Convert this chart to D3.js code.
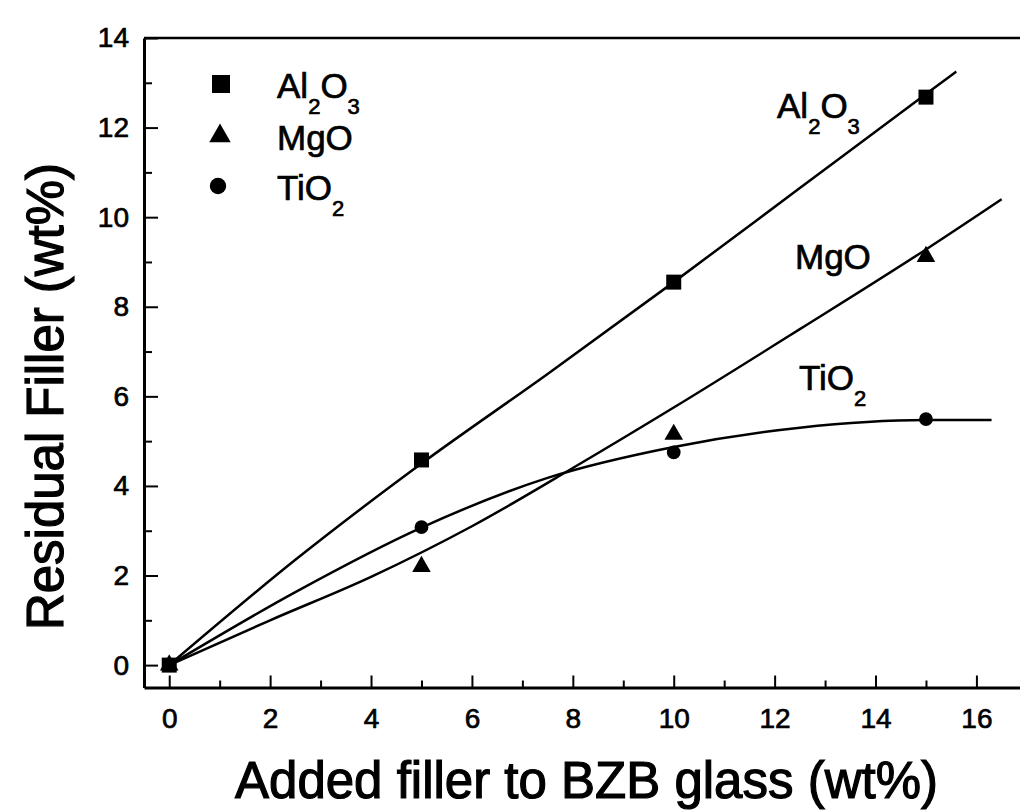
<!DOCTYPE html>
<html>
<head>
<meta charset="utf-8">
<title>Residual filler vs added filler</title>
<script src="https://d3js.org/d3.v7.min.js"></script>
<style>
  body { margin: 0; background: #fff; }
  svg { display: block; }
  text { font-family: Arial, "Liberation Sans", sans-serif; fill: #000; stroke: #000; stroke-width: 0.7px; }
  .axis path, .axis line { stroke: #000; }
  .fit { fill: none; stroke: #000; stroke-width: 2.5px; }
</style>
</head>
<body>
<svg width="1020" height="811"></svg>
<script>
// measured points
const added = [0, 5, 10, 15];
const al2o3 = [0, 4.58, 8.55, 12.68];
const mgo = [0, 2.2, 5.15, 9.12];
const tio2 = [0, 3.08, 4.75, 5.49];

// fitted curves
const alFitX = [0, 2.5, 5, 7.5, 10, 12.5, 15, 15.6];
const alFitY = [0, 2.35, 4.5, 6.5, 8.55, 10.65, 12.75, 13.25];
const mgFitX = [0, 2, 4, 6, 8, 10, 12.5, 15, 16.5];
const mgFitY = [0, 1.0, 1.97, 3.1, 4.4, 5.75, 7.5, 9.28, 10.4];
const tiFitX = [0, 2.5, 5, 7.5, 10, 12.5, 15, 16.3];
const tiFitY = [0, 1.63, 3.07, 4.18, 4.87, 5.3, 5.47, 5.47];

const xMajor = [0, 2, 4, 6, 8, 10, 12, 14, 16];
const xMinor = [1, 3, 5, 7, 9, 11, 13, 15, 17];
const yMajor = [0, 2, 4, 6, 8, 10, 12, 14];
const yMinor = [1, 3, 5, 7, 9, 11, 13];

const svg = d3.select("svg");

const x = d3.scaleLinear().domain([-0.5, 17]).range([144, 144 + 17.5 * 50.45]);
const y = d3.scaleLinear().domain([-0.5, 14]).range([687.5, 38]);

// top border
svg.append("line")
  .attr("x1", x(-0.5)).attr("x2", 1020)
  .attr("y1", y(14)).attr("y2", y(14))
  .attr("stroke", "#000").attr("stroke-width", 2.5);

// x axis
const gx = svg.append("g").attr("class", "axis")
  .attr("transform", `translate(0,${y(-0.5)})`);
gx.call(d3.axisBottom(x).tickValues(xMajor).tickSizeInner(-12).tickSizeOuter(0).tickPadding(21));
gx.append("g").call(d3.axisBottom(x).tickValues(xMinor).tickSizeInner(-7).tickSizeOuter(0).tickFormat(""))
  .select(".domain").remove();
gx.selectAll("path.domain").attr("stroke-width", 3);
gx.selectAll("line").attr("stroke-width", 2);
gx.selectAll("text").attr("font-size", 28).attr("font-family", "Arial, 'Liberation Sans', sans-serif");

// y axis
const gy = svg.append("g").attr("class", "axis")
  .attr("transform", `translate(${x(-0.5)},0)`);
gy.call(d3.axisLeft(y).tickValues(yMajor).tickSizeInner(-14).tickSizeOuter(0).tickPadding(15));
gy.append("g").call(d3.axisLeft(y).tickValues(yMinor).tickSizeInner(-8).tickSizeOuter(0).tickFormat(""))
  .select(".domain").remove();
gy.selectAll("path.domain").attr("stroke-width", 3);
gy.selectAll("line").attr("stroke-width", 2);
gy.selectAll("text").attr("font-size", 28).attr("font-family", "Arial, 'Liberation Sans', sans-serif");

// axis titles
svg.append("text")
  .attr("x", 235).attr("y", 798)
  .attr("font-size", 51)
  .style("stroke-width", "1.2px")
  .attr("textLength", 703).attr("lengthAdjust", "spacingAndGlyphs")
  .text("Added filler to BZB glass (wt%)");

svg.append("text")
  .attr("transform", "translate(63,630) rotate(-90)")
  .attr("font-size", 51)
  .style("stroke-width", "1.2px")
  .attr("textLength", 467).attr("lengthAdjust", "spacingAndGlyphs")
  .text("Residual Filler (wt%)");

// fit curves
const line = d3.line().x(d => x(d[0])).y(d => y(d[1])).curve(d3.curveMonotoneX);
const fits = [
  d3.zip(alFitX, alFitY),
  d3.zip(mgFitX, mgFitY),
  d3.zip(tiFitX, tiFitY)
];
svg.selectAll(".fit").data(fits).enter().append("path")
  .attr("class", "fit")
  .attr("d", line);

// markers
const shapes = [
  { vals: al2o3, sym: d3.symbolSquare, size: 15 * 15 },
  { vals: mgo, sym: d3.symbolTriangle, size: 150 },
  { vals: tio2, sym: d3.symbolCircle, size: 150 }
];
shapes.forEach(s => {
  svg.append("g").selectAll("path")
    .data(d3.zip(added, s.vals))
    .enter().append("path")
    .attr("d", d3.symbol().type(s.sym).size(s.size))
    .attr("transform", d => `translate(${x(d[0])},${y(d[1])})`)
    .attr("fill", "#000");
});

// legend
const legend = svg.append("g");
const legendSyms = [
  { sym: d3.symbolSquare, size: 18 * 18, cx: 221, cy: 84 },
  { sym: d3.symbolTriangle, size: 200, cx: 220, cy: 136 },
  { sym: d3.symbolCircle, size: 210, cx: 218, cy: 186 }
];
legend.selectAll("path").data(legendSyms).enter().append("path")
  .attr("d", d => d3.symbol().type(d.sym).size(d.size)())
  .attr("transform", d => `translate(${d.cx},${d.cy})`)
  .attr("fill", "#000");

function formula(g, px, py, parts) {
  const t = g.append("text").attr("x", px).attr("y", py).attr("font-size", 35);
  let sub = false;
  parts.forEach(p => {
    const isSub = /^[0-9]$/.test(p);
    const ts = t.append("tspan").text(p);
    if (isSub && !sub) { ts.attr("dy", 16).attr("font-size", 22); sub = true; }
    else if (isSub) { ts.attr("font-size", 22); }
    else if (sub) { ts.attr("dy", -16); sub = false; }
  });
  return t;
}

formula(legend, 277, 98, ["Al", "2", "O", "3"]);
formula(legend, 277, 150, ["MgO"]);
formula(legend, 277, 200, ["TiO", "2"]);

// curve labels
formula(svg, 777, 118, ["Al", "2", "O", "3"]);
formula(svg, 795, 269, ["MgO"]);
formula(svg, 799, 390, ["TiO", "2"]);
</script>
</body>
</html>
